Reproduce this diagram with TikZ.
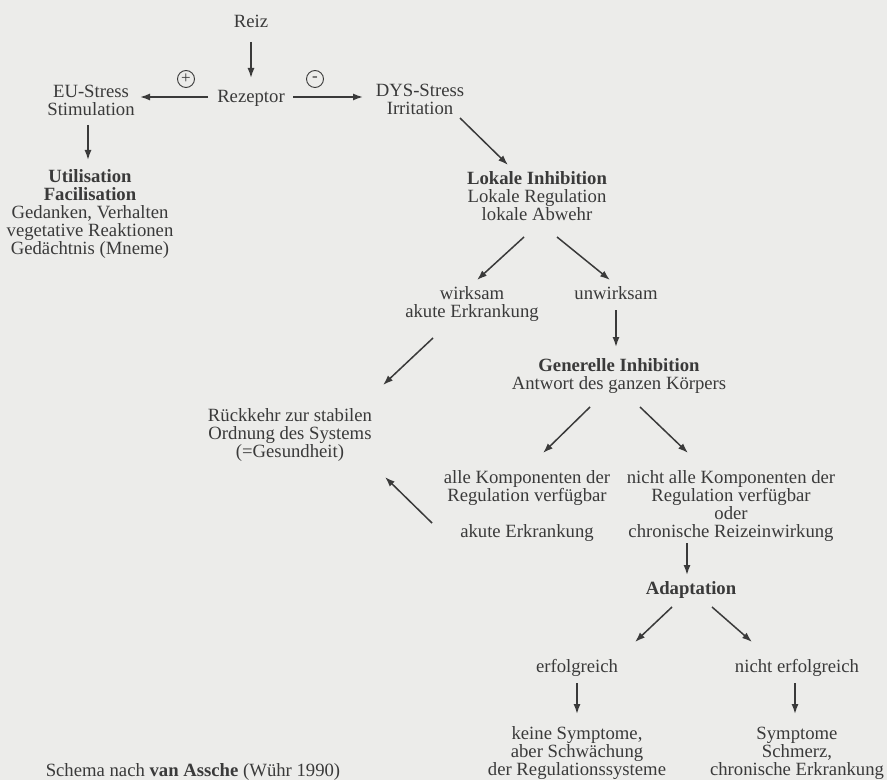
\documentclass[tikz,border=0pt]{standalone}
\usepackage{fontspec}
\setmainfont{Liberation Serif}
\usetikzlibrary{arrows.meta}
\definecolor{ink}{RGB}{58,58,58}
\definecolor{paper}{RGB}{236,236,234}
\begin{document}
\begin{tikzpicture}[x=0.5pt,y=-0.5pt,
  txt/.style={align=center,inner sep=0pt,text=ink,font=\fontsize{9.35}{9}\selectfont},
  arr/.style={-{Latex[length=5pt,width=3.5pt]},line width=0.75pt,draw=ink},
  sign/.style={circle,draw=ink,line width=0.45pt,inner sep=0pt,minimum size=8.5pt,text=ink,font=\fontsize{8.5}{8.5}\selectfont}]
\fill[paper] (0,0) rectangle (887,780);
\useasboundingbox (0,0) rectangle (887,780);
% Reiz und Rezeptor
\node[txt] (reiz) at (251,21) {Reiz};
\node[txt] (rez) at (251,98) {Rezeptor};
\node[sign] (plus) at (186,79) {+};
\node[sign] (minus) at (315,79) {-};
\node[txt] (eu) at (91,100) {EU-Stress\\Stimulation};
\node[txt] (dys) at (420,99) {DYS-Stress\\Irritation};
\node[txt] (util) at (90,214) {\textbf{Utilisation}\\\textbf{Facilisation}\\Gedanken, Verhalten\\vegetative Reaktionen\\Gedächtnis (Mneme)};
\node[txt] (lok) at (537,196) {\textbf{Lokale Inhibition}\\Lokale Regulation\\lokale Abwehr};
\node[txt] (wirk) at (472,304) {wirksam\\akute Erkrankung};
\node[txt] (unwirk) at (616,293) {unwirksam};
\node[txt] (gen) at (619,376) {\textbf{Generelle Inhibition}\\Antwort des ganzen Körpers};
\node[txt] (rueck) at (290,435) {Rückkehr zur stabilen\\Ordnung des Systems\\(=Gesundheit)};
\node[txt] (alle) at (527,506) {alle Komponenten der\\Regulation verfügbar\\[9pt]akute Erkrankung};
\node[txt] (nicht) at (731,506) {nicht alle Komponenten der\\Regulation verfügbar\\oder\\chronische Reizeinwirkung};
\node[txt] (adapt) at (691,590) {\textbf{Adaptation}};
\node[txt] (erf) at (577,668) {erfolgreich};
\node[txt] (nerf) at (797,668) {nicht erfolgreich};
\node[txt] (keine) at (577,753) {keine Symptome,\\aber Schwächung\\der Regulationssysteme};
\node[txt] (sympt) at (797,753) {Symptome\\Schmerz,\\chronische Erkrankung};
\node[txt] (schema) at (193,772) {Schema nach \textbf{van Assche} (Wühr 1990)};
% Pfeile
\draw[arr] ([shift={(0,21)}]reiz.center) -- ([shift={(0,-20)}]rez.center);
\draw[arr] ([shift={(-43,-1)}]rez.center) -- ([shift={(49,-3)}]eu.center);
\draw[arr] ([shift={(42,-1)}]rez.center) -- ([shift={(-57,-2)}]dys.center);
\draw[arr] ([shift={(-3,25)}]eu.center) -- ([shift={(-2,-54)}]util.center);
\draw[arr] ([shift={(40,19)}]dys.center) -- ([shift={(-29,-31)}]lok.center);
\draw[arr] ([shift={(-13,41)}]lok.center) -- ([shift={(5,-24)}]wirk.center);
\draw[arr] ([shift={(20,41)}]lok.center) -- ([shift={(-6,-13)}]unwirk.center);
\draw[arr] ([shift={(0,17)}]unwirk.center) -- ([shift={(-3,-29)}]gen.center);
\draw[arr] ([shift={(-39,34)}]wirk.center) -- ([shift={(93,-50)}]rueck.center);
\draw[arr] ([shift={(-29,31)}]gen.center) -- ([shift={(16,-53)}]alle.center);
\draw[arr] ([shift={(21,31)}]gen.center) -- ([shift={(-43,-53)}]nicht.center);
\draw[arr] ([shift={(-95,17)}]alle.center) -- ([shift={(95,42)}]rueck.center);
\draw[arr] ([shift={(-44,37)}]nicht.center) -- ([shift={(-4,-15)}]adapt.center);
\draw[arr] ([shift={(-19,17)}]adapt.center) -- ([shift={(58,-26)}]erf.center);
\draw[arr] ([shift={(21,17)}]adapt.center) -- ([shift={(-45,-26)}]nerf.center);
\draw[arr] ([shift={(0,15)}]erf.center) -- ([shift={(0,-39)}]keine.center);
\draw[arr] ([shift={(-2,15)}]nerf.center) -- ([shift={(-2,-39)}]sympt.center);
\end{tikzpicture}
\end{document}
